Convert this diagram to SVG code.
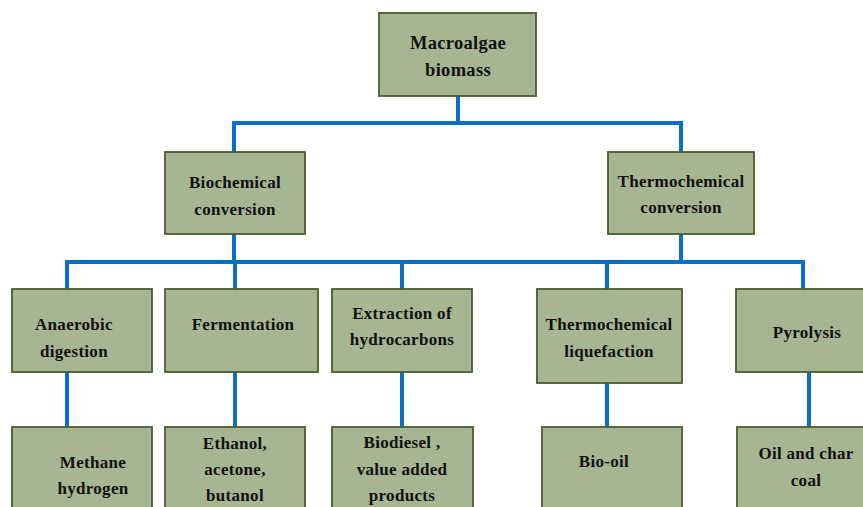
<svg xmlns="http://www.w3.org/2000/svg" width="863" height="507" viewBox="0 0 863 507">
<style>
.box{fill:#a6b592;stroke:#4e5a2e;stroke-width:1.8}
.t{font-family:"Liberation Serif","Times New Roman",serif;font-weight:bold;font-size:17px;letter-spacing:0.3px;fill:#111;text-anchor:middle}
.big{font-size:18.5px}
.c{stroke:#0a70c4;stroke-width:4;fill:none}
</style>
<rect width="863" height="507" fill="#fff"/>
<g id="connectors">
<path class="c" d="M458 96V123M234 123H681M234 121V152M681 121V152"/>
<path class="c" d="M234 234V262M681 234V262M67 262H803M67 260V289M235 260V289M402 260V289M607 260V289M803 260V289"/>
<path class="c" d="M67 372V427M235 372V427M402 372V427M607 383V427M809 372V427"/>
</g>
<g id="n-macroalgae"><rect class="box" x="379" y="13" width="157" height="83"/><text class="t big" x="458" y="49">Macroalgae</text><text class="t big" x="458" y="76">biomass</text></g>
<g id="n-biochemical"><rect class="box" x="165" y="152" width="140" height="82"/><text class="t" x="235" y="188">Biochemical</text><text class="t" x="235" y="215">conversion</text></g>
<g id="n-thermochemical"><rect class="box" x="608" y="152" width="146" height="82"/><text class="t" x="681" y="187">Thermochemical</text><text class="t" x="681" y="213">conversion</text></g>
<g id="n-anaerobic"><rect class="box" x="12" y="289" width="140" height="83"/><text class="t" x="74" y="330">Anaerobic</text><text class="t" x="74" y="357">digestion</text></g>
<g id="n-fermentation"><rect class="box" x="165" y="289" width="153" height="83"/><text class="t" x="243" y="330">Fermentation</text></g>
<g id="n-extraction"><rect class="box" x="332" y="289" width="140" height="83"/><text class="t" x="402" y="319">Extraction of</text><text class="t" x="402" y="345">hydrocarbons</text></g>
<g id="n-liquefaction"><rect class="box" x="537" y="289" width="145" height="94"/><text class="t" x="609" y="330">Thermochemical</text><text class="t" x="609" y="357">liquefaction</text></g>
<g id="n-pyrolysis"><rect class="box" x="736" y="289" width="140" height="83"/><text class="t" x="807" y="338">Pyrolysis</text></g>
<g id="n-methane"><rect class="box" x="12" y="427" width="140" height="90"/><text class="t" x="93" y="468">Methane</text><text class="t" x="93" y="494">hydrogen</text></g>
<g id="n-ethanol"><rect class="box" x="165" y="427" width="140" height="90"/><text class="t" x="235" y="449">Ethanol,</text><text class="t" x="235" y="475">acetone,</text><text class="t" x="235" y="501">butanol</text></g>
<g id="n-biodiesel"><rect class="box" x="332" y="427" width="141" height="90"/><text class="t" x="402" y="448">Biodiesel ,</text><text class="t" x="402" y="475">value added</text><text class="t" x="402" y="501">products</text></g>
<g id="n-biooil"><rect class="box" x="542" y="427" width="140" height="90"/><text class="t" x="604" y="467">Bio-oil</text></g>
<g id="n-oilchar"><rect class="box" x="737" y="427" width="140" height="90"/><text class="t" x="806" y="459">Oil and char</text><text class="t" x="806" y="486">coal</text></g>
</svg>
